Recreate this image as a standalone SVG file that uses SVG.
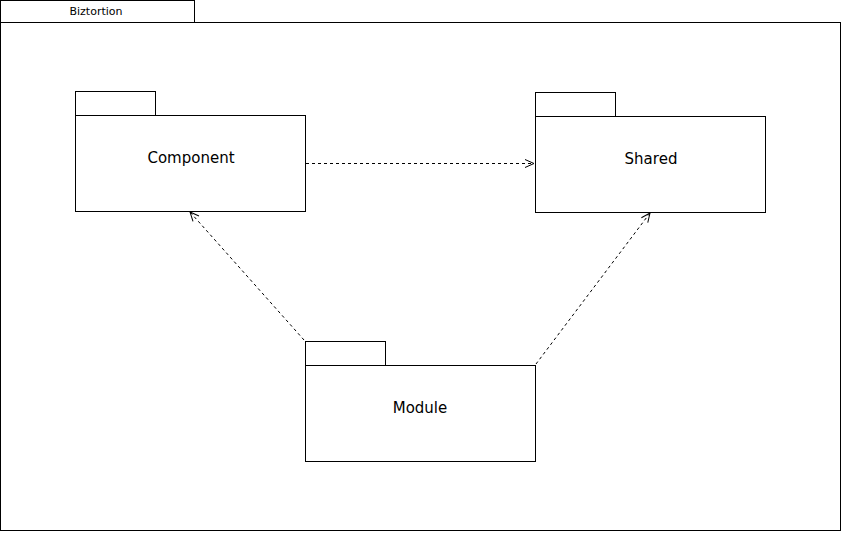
<svg xmlns="http://www.w3.org/2000/svg" width="842" height="542" viewBox="0 0 842 542">
<style>
.b{fill:#fff;stroke:#000;stroke-width:1}
.t{font-family:"DejaVu Sans",Verdana,sans-serif;font-size:15px;fill:#000;text-anchor:middle}
.c{fill:none;stroke:#000;stroke-width:1;stroke-dasharray:3,3}
</style>
<defs>
<marker id="ah" markerWidth="12" markerHeight="12" refX="10" refY="5" orient="auto" markerUnits="userSpaceOnUse">
<path d="M1,1 L10,5 L1,9" fill="none" stroke="#000" stroke-width="1"/>
</marker>
</defs>
<rect width="842" height="542" fill="#fff"/>
<g id="frame">
<rect class="b" x="0.5" y="0.5" width="194" height="22"/>
<rect class="b" x="0.5" y="22.5" width="840" height="508"/>
<text x="96" y="15" style="font-family:'DejaVu Sans',Verdana,sans-serif;font-size:11px;text-anchor:middle">Biztortion</text>
</g>
<g id="component">
<rect class="b" x="75.5" y="91.5" width="80" height="24"/>
<rect class="b" x="75.5" y="115.5" width="230" height="96"/>
<text class="t" x="191" y="163">Component</text>
</g>
<g id="shared">
<rect class="b" x="535.5" y="92.5" width="80" height="24"/>
<rect class="b" x="535.5" y="116.5" width="230" height="96"/>
<text class="t" x="651" y="164">Shared</text>
</g>
<g id="module">
<rect class="b" x="305.5" y="341.5" width="80" height="24"/>
<rect class="b" x="305.5" y="365.5" width="230" height="96"/>
<text class="t" x="420" y="413">Module</text>
</g>
<g id="connectors">
<path class="c" d="M306,163.5 L534,163.5" marker-end="url(#ah)"/>
<path class="c" d="M304,340 L190,212" marker-end="url(#ah)"/>
<path class="c" d="M536,364 L650,213" marker-end="url(#ah)"/>
</g>
</svg>
